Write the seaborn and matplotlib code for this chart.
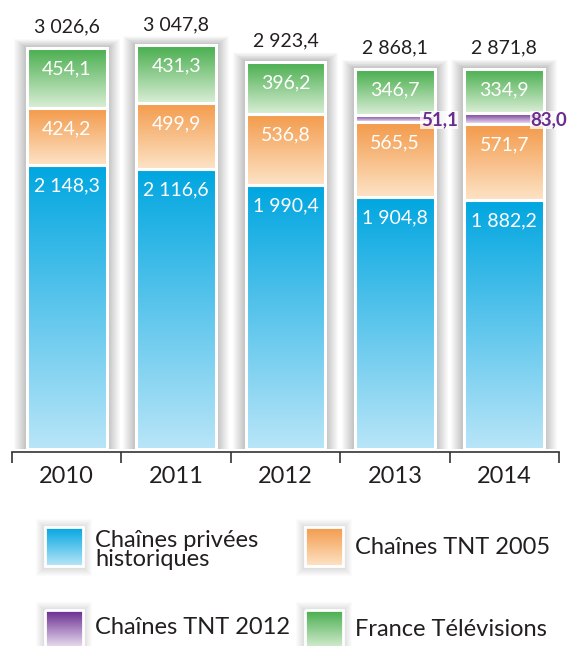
import numpy as np
import pandas as pd
import seaborn as sns
import matplotlib.pyplot as plt
from matplotlib.patches import Rectangle
import matplotlib.colors as mcolors

years = ["2010", "2011", "2012", "2013", "2014"]
privees = [2148.3, 2116.6, 1990.4, 1904.8, 1882.2]
tnt2005 = [424.2, 499.9, 536.8, 565.5, 571.7]
tnt2012 = [0.0, 0.0, 0.0, 51.1, 83.0]
ftv = [454.1, 431.3, 396.2, 346.7, 334.9]
totals = [3026.6, 3047.8, 2923.4, 2868.1, 2871.8]

series_names = ["Chaînes privées\nhistoriques", "Chaînes TNT 2005",
                "Chaînes TNT 2012", "France Télévisions"]
# top colour, bottom colour of each gradient
grads = [("#00a6e0", "#b8e5f8"), ("#f39a4a", "#fde3c6"),
         ("#682a8e", "#efe6f4"), ("#47ad4c", "#d9eed5")]

sns.set_theme(style="white")
plt.rcParams["font.family"] = ["Lato", "DejaVu Sans"]

W = 0.73
fig = plt.figure(figsize=(5.68, 6.46), dpi=100)
ax = fig.add_axes([12 / 568, 197 / 646, 547 / 568, 437 / 646])
px_x = 1 / 109.4        # data units per pixel
px_y = 3300 / 437


def grad_img(c_top, c_bot, n=100):
    a = np.array(mcolors.to_rgba(c_top))
    b = np.array(mcolors.to_rgba(c_bot))
    t = np.linspace(0, 1, n)[:, None]
    return (a * (1 - t) + b * t)[:, None, :]


def fmt(v):
    return f"{v:,.1f}".replace(",", " ").replace(".", ",")


df = pd.DataFrame({"year": years, "privees": privees, "tnt2005": tnt2005,
                   "tnt2012": tnt2012, "ftv": ftv})
layers = ["privees", "tnt2005", "tnt2012", "ftv"]

# soft shadow behind each bar
for i, tot in enumerate(totals):
    for k in range(1, 14):
        ax.add_patch(Rectangle((i - W / 2 - k * px_x, -1 * px_y),
                               W + 2 * k * px_x, tot + (k * 0.7 + 1) * px_y,
                               facecolor="black", alpha=0.02, lw=0, zorder=0.5))

bottom = np.zeros(len(years))
for layer, (ct, cb) in zip(layers, grads):
    n_before = len(ax.patches)
    sns.barplot(data=df, x="year", y=layer, bottom=bottom, width=W,
                color=ct, ax=ax, zorder=1)
    for p in ax.patches[n_before:]:
        x0, y0 = p.get_x(), p.get_y()
        w, h = p.get_width(), p.get_height()
        if h <= 0:
            continue
        im = ax.imshow(grad_img(ct, cb), extent=(x0, x0 + w, y0, y0 + h),
                       aspect="auto", origin="upper", zorder=2)
        im.set_clip_path(p)
        ax.add_patch(Rectangle((x0, y0), w, h, facecolor="none",
                               edgecolor="white", lw=2.2, zorder=3))
    bottom = bottom + np.array(df[layer])

ax.set_xlim(-0.5, 4.5)
ax.set_ylim(0, 3300)

# value labels
off = 158
for i in range(len(years)):
    base = 0
    for layer in ["privees", "tnt2005", "ftv"]:
        if layer == "ftv":
            base = privees[i] + tnt2005[i] + tnt2012[i]
        v = df[layer][i]
        ax.text(i, base + v - off, fmt(v), ha="center", va="center",
                color="white", fontsize=14, zorder=5)
        base += v
    ax.text(i, totals[i] + off, fmt(totals[i]), ha="center", va="center",
            color="#231f20", fontsize=14, zorder=5)
    if tnt2012[i] > 0:
        yc = privees[i] + tnt2005[i] + tnt2012[i] / 2 - 1.5 * px_y
        ax.text(i + W / 2 - 14 * px_x, yc, fmt(tnt2012[i]), ha="left",
                va="center", color="#6a2c8f", fontsize=13.5, fontweight="bold",
                zorder=6, clip_on=False,
                bbox=dict(facecolor="white", alpha=0.75, lw=0, pad=0.3))

ax.set_xlabel("")
ax.set_ylabel("")
ax.set_yticks([])
for s in ["left", "right", "top"]:
    ax.spines[s].set_visible(False)
ax.spines["bottom"].set_color("#333333")
ax.spines["bottom"].set_linewidth(1.2)
ax.spines["bottom"].set_position(("outward", 2.5))
ax.set_xticks(range(len(years)))
ax.set_xticklabels(years)
ax.set_xticks(np.arange(-0.5, 5, 1), minor=True)
ax.tick_params(axis="x", which="major", length=0, pad=10, labelsize=17,
               labelcolor="#231f20")
ax.tick_params(axis="x", which="minor", length=8, width=1.2, color="#333333",
               direction="out", bottom=True)

# legend, drawn in pixel coordinates of the lower band
lax = fig.add_axes([0, 0, 1, 150 / 646])
lax.set_xlim(0, 568)
lax.set_ylim(646, 496)
lax.axis("off")
spots = [(45, 527, 95, 550), (305, 527, 355, 548),
         (45, 610, 95, 628), (305, 610, 355, 630)]
for (sx, sy, tx, ty), name, (ct, cb) in zip(spots, series_names, grads):
    for k in range(1, 10):
        lax.add_patch(Rectangle((sx - k, sy - k + 1), 38 + 2 * k, 39 + 2 * k,
                                facecolor="black", alpha=0.015, lw=0, zorder=0))
    lax.imshow(grad_img(ct, cb), extent=(sx, sx + 38, sy + 39, sy),
               aspect="auto", origin="upper", zorder=2)
    lax.add_patch(Rectangle((sx, sy), 38, 39, facecolor="none",
                            edgecolor="white", lw=2, zorder=3))
    lax.text(tx, ty, name, ha="left", va="center", fontsize=17,
             color="#231f20", linespacing=0.92)
lax.set_xlim(0, 568)
lax.set_ylim(646, 496)

fig.savefig("out.png", dpi=100, facecolor="white")
